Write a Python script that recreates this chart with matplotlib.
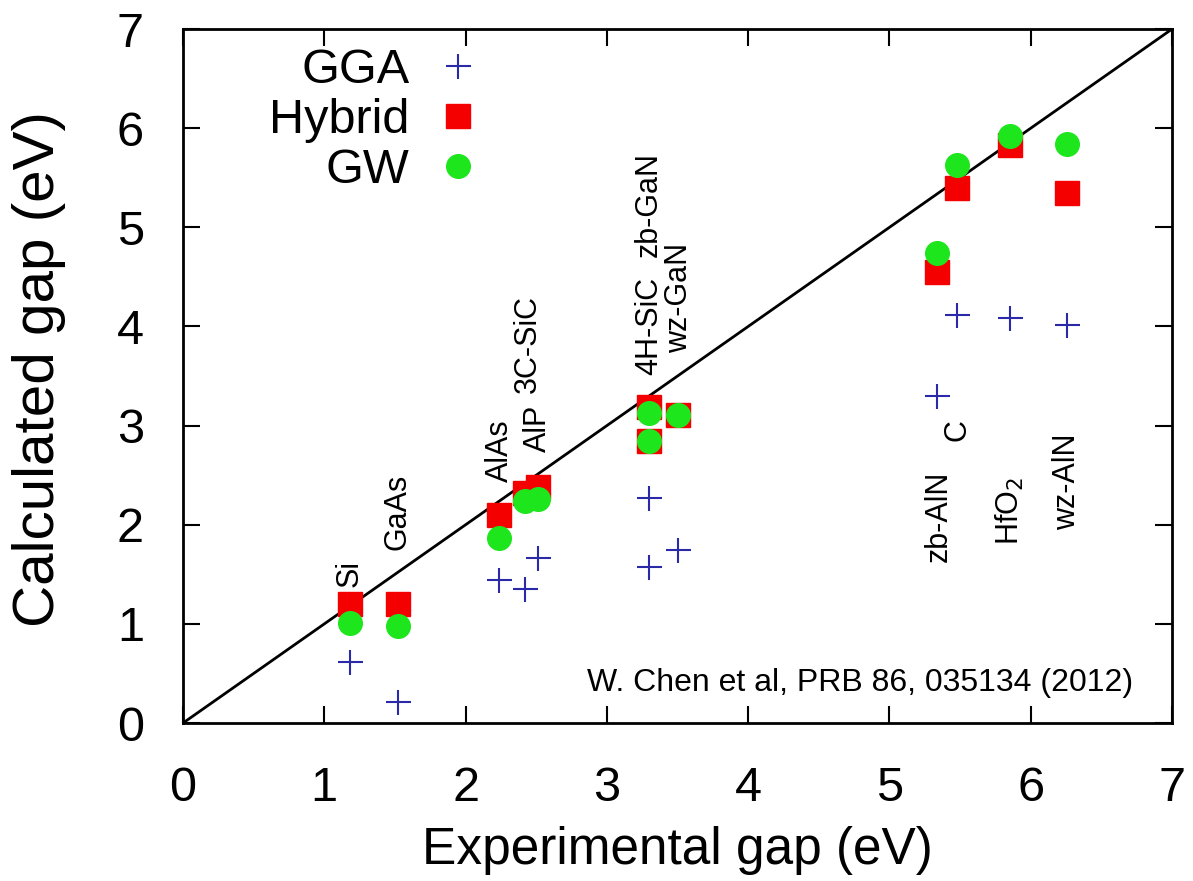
import matplotlib
matplotlib.use("Agg")
import matplotlib.pyplot as plt

plt.rcParams['font.family'] = ['Liberation Sans', 'DejaVu Sans']

# Experimental vs calculated band gaps (eV)
materials = ["Si", "GaAs", "AlAs", "3C-SiC", "AlP", "4H-SiC", "zb-GaN", "wz-GaN",
             "zb-AlN", "C", "HfO$_2$", "wz-AlN"]
exp_gap = [1.18, 1.52, 2.24, 2.42, 2.51, 3.30, 3.30, 3.50, 5.34, 5.48, 5.85, 6.26]
gga_gap = [0.62, 0.21, 1.44, 1.35, 1.66, 2.27, 1.57, 1.75, 3.30, 4.12, 4.09, 4.02]
hybrid_gap = [1.20, 1.20, 2.10, 2.32, 2.38, 3.19, 2.84, 3.11, 4.55, 5.40, 5.83, 5.35]
gw_gap = [1.01, 0.98, 1.87, 2.24, 2.26, 3.13, 2.84, 3.11, 4.74, 5.63, 5.92, 5.84]

# where the vertical material labels start (bottom of text, in eV)
label_x = [1.18, 1.52, 2.24, 2.44, 2.51, 3.30, 3.30, 3.51, 5.35, 5.48, 5.85, 6.26]
label_y = [1.37, 1.75, 2.43, 3.33, 2.73, 3.51, 4.70, 3.73, 1.62, 2.84, 1.80, 1.95]

fig = plt.figure(figsize=(11.93, 8.81), dpi=100)
ax = fig.add_axes([0.1534, 0.1793, 0.829, 0.7877])

ax.plot([0, 7], [0, 7], color='black', lw=2, zorder=1)

ax.plot(exp_gap, gga_gap, linestyle='none', marker='+', ms=18, mew=1.5,
        color='#2a2aa8', label='GGA', zorder=3)
ax.plot(exp_gap, hybrid_gap, linestyle='none', marker='s', ms=17,
        color='#f50000', label='Hybrid', zorder=4)
ax.plot(exp_gap, gw_gap, linestyle='none', marker='o', ms=17,
        color='#1de61d', label='GW', zorder=5)

for name, lx, ly in zip(materials, label_x, label_y):
    ax.text(lx, ly, name, rotation=90, ha='center', va='bottom', fontsize=22)

ax.text(0.9606, 0.0576, "W. Chen et al, PRB 86, 035134 (2012)", transform=ax.transAxes,
        ha='right', va='center', fontsize=23)

leg = ax.legend(loc='upper right', bbox_to_anchor=(0.3165, 1.0), frameon=False,
                markerfirst=False, fontsize=35, labelspacing=0.11,
                handlelength=0.8, handletextpad=0.6, borderaxespad=0, borderpad=0.38)
for col in leg._legend_handle_box.get_children():
    col.align = 'right'

ax.set_xlim(0, 7)
ax.set_ylim(0, 7)
ax.set_xticks(range(8))
ax.set_yticks(range(8))
ax.tick_params(direction='in', length=12, width=1.5, top=True, right=True,
               labelsize=35)
ax.tick_params(axis='x', pad=31)
ax.tick_params(axis='y', pad=28)
for sp in ax.spines.values():
    sp.set_linewidth(2)

ax.set_xlabel("Experimental gap (eV)", fontsize=37)
ax.xaxis.set_label_coords(0.5, -0.148)
ax.set_ylabel("Calculated gap (eV)", fontsize=42)
ax.yaxis.set_label_coords(-0.118, 0.51)

fig.savefig("out.png", dpi=100)
